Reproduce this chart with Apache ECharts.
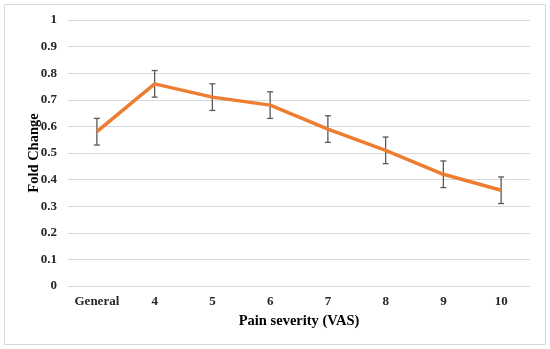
<!DOCTYPE html>
<html><head><meta charset="utf-8">
<script src="https://cdn.jsdelivr.net/npm/echarts@6/dist/echarts.min.js"></script>
<style>html,body{margin:0;padding:0;background:#fff}#c{width:550px;height:349px}</style>
</head><body><div id="c"></div>
<script>
var categories = ['General','4','5','6','7','8','9','10'];
var foldChange = [0.58,0.76,0.71,0.68,0.59,0.51,0.42,0.36];
var errors = [0.05,0.05,0.05,0.05,0.05,0.05,0.05,0.05];
var yTicks = [0,0.1,0.2,0.3,0.4,0.5,0.6,0.7,0.8,0.9,1];

var errData = foldChange.map(function(v,i){return [i, v-errors[i], v+errors[i]];});
var font = '"Liberation Serif","Times New Roman",serif';
var chart = echarts.init(document.getElementById('c'));
chart.setOption({
  animation:false,
  graphic:[{type:'rect',shape:{x:4.5,y:4.5,width:541,height:340},style:{fill:'none',stroke:'#d9d9d9',lineWidth:1}}],
  grid:{left:68,right:20,top:20,bottom:63},
  xAxis:{type:'category',data:categories,boundaryGap:true,
    axisLine:{show:false},axisTick:{show:false},
    axisLabel:{interval:0,fontFamily:font,fontWeight:'bold',fontSize:13,color:'#262626',margin:9},
    name:'Pain severity (VAS)',nameLocation:'middle',nameGap:28,nameMoveOverlap:false,
    nameTextStyle:{fontFamily:font,fontWeight:'bold',fontSize:14.5,color:'#000'}},
  yAxis:{type:'value',min:0,max:1,interval:0.1,
    axisLine:{show:false},axisTick:{show:false},
    splitLine:{lineStyle:{color:'#d9d9d9',width:1}},
    axisLabel:{fontFamily:font,fontWeight:'bold',fontSize:13,color:'#262626',margin:11,
      formatter:function(v){var r=Math.round(v*10)/10; return yTicks.indexOf(r)>=0?String(r):'';}},
    name:'Fold Change',nameLocation:'middle',nameGap:26,nameMoveOverlap:false,
    nameTextStyle:{fontFamily:font,fontWeight:'bold',fontSize:14.5,color:'#000'}},
  series:[
    {type:'line',data:foldChange,symbol:'none',lineStyle:{color:'#ED7D31',width:3.5},z:3},
    {type:'custom',data:errData,z:2,
      renderItem:function(params,api){
        var x=api.value(0);
        var lo=api.coord([x,api.value(1)]);
        var hi=api.coord([x,api.value(2)]);
        var w=3;
        var st={stroke:'#595959',lineWidth:1.3};
        return {type:'group',children:[
          {type:'line',shape:{x1:lo[0],y1:lo[1],x2:hi[0],y2:hi[1]},style:st},
          {type:'line',shape:{x1:lo[0]-w,y1:lo[1],x2:lo[0]+w,y2:lo[1]},style:st},
          {type:'line',shape:{x1:hi[0]-w,y1:hi[1],x2:hi[0]+w,y2:hi[1]},style:st}
        ]};
      }}
  ]
});
</script></body></html>
